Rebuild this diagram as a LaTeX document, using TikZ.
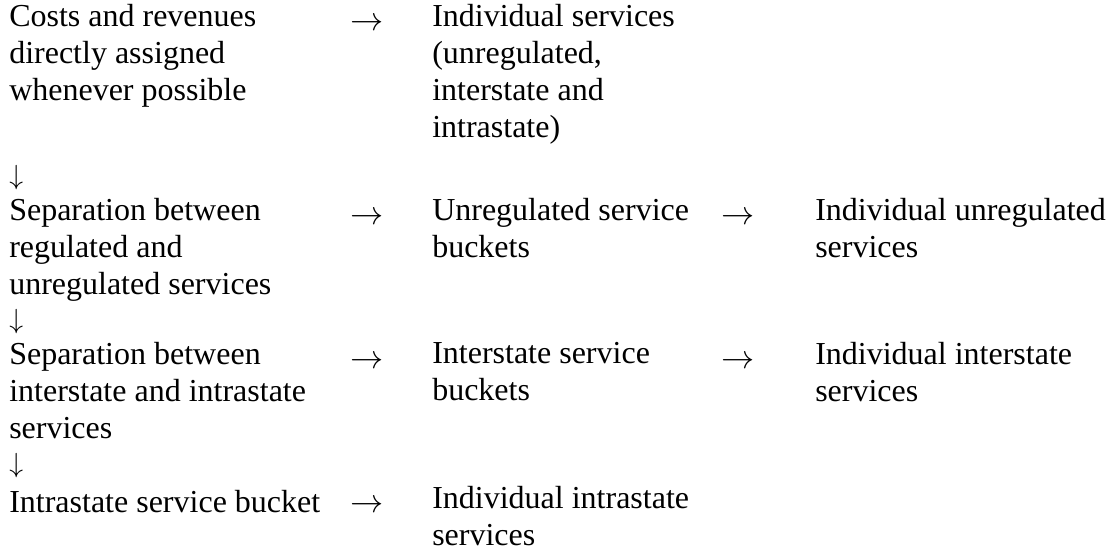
\documentclass[tikz,border=0pt]{standalone}
\usepackage{fontspec}
\setmainfont{Liberation Serif}
\usepackage{tikz}

\begin{document}
\begin{tikzpicture}[x=0.75pt, y=-0.75pt,
  txt/.style={font=\fontsize{24}{27.75}\selectfont, align=left,
              anchor=north west, inner sep=0pt,
              execute at begin node=\strut},
  arr/.style={txt},
  darr/.style={txt, anchor=base west, font=\fontsize{22}{24}\selectfont},
]
\useasboundingbox (0,0) rectangle (1110,550);

% first column: the chain of separations (y = baseline - 22)
\node[txt] (costs) at (9,4) {Costs and revenues\\directly assigned\\whenever possible};
\node[darr] (d1) at (9,184) {$\downarrow$};
\node[txt] (sepreg) at (9,198) {Separation between\\regulated and\\unregulated services};
\node[darr] (d2) at (9,328) {$\downarrow$};
\node[txt] (sepinter) at (9,342) {Separation between\\interstate and intrastate\\services};
\node[darr] (d3) at (9,472) {$\downarrow$};
\node[txt] (intrabkt) at (9,486) {Intrastate service bucket};

% second column
\node[arr] (r1) at (350,4) {$\rightarrow$};
\node[txt] (indiv) at (432,4) {Individual services\\(unregulated,\\interstate and\\intrastate)};
\node[arr] (r2) at (350,198) {$\rightarrow$};
\node[txt] (unregbkt) at (432,198) {Unregulated service\\buckets};
\node[arr] (r3) at (350,342) {$\rightarrow$};
\node[txt] (interbkt) at (432,342) {Interstate service\\buckets};
\node[arr] (r4) at (350,486) {$\rightarrow$};
\node[txt] (indivintra) at (432,486) {Individual intrastate\\services};

% third column
\node[arr] (r5) at (721,198) {$\rightarrow$};
\node[txt] (indivunreg) at (815,198) {Individual unregulated\\services};
\node[arr] (r6) at (721,342) {$\rightarrow$};
\node[txt] (indivinter) at (815,342) {Individual interstate\\services};
\end{tikzpicture}
\end{document}
